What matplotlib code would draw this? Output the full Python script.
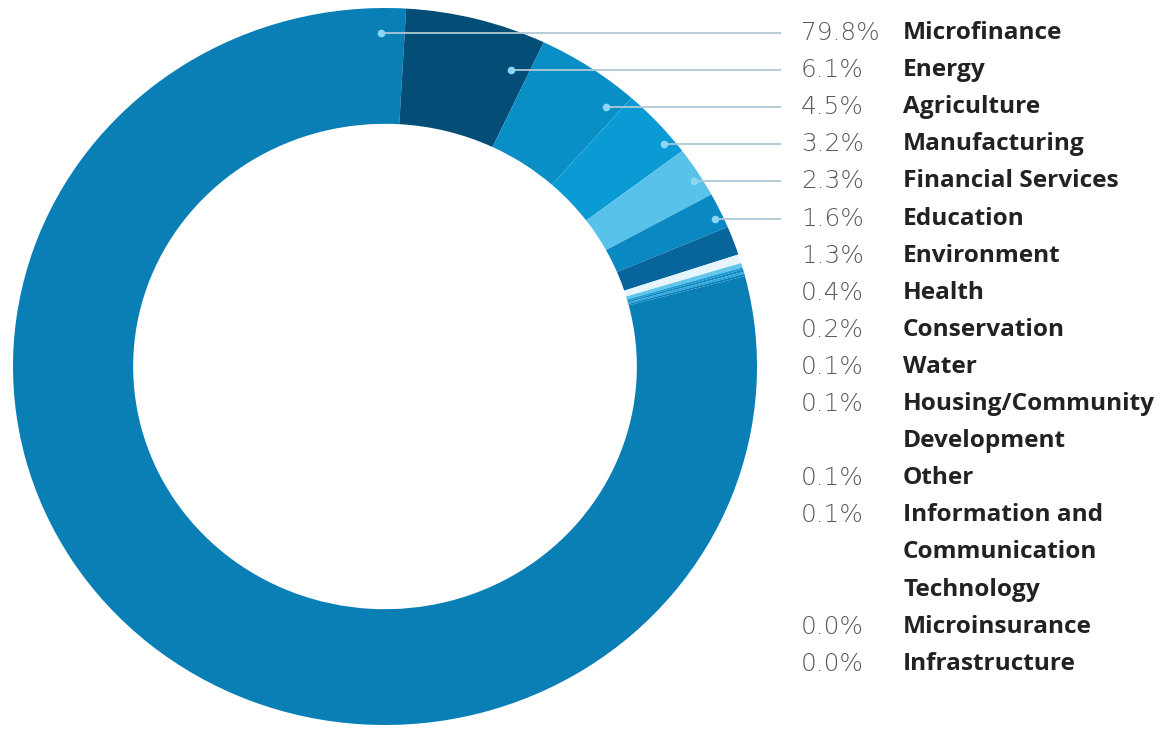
import numpy as np
import matplotlib
matplotlib.use("Agg")
import matplotlib.pyplot as plt

# ---------------- data ----------------
categories = ["Microfinance", "Energy", "Agriculture", "Manufacturing",
              "Financial Services", "Education", "Environment", "Health",
              "Conservation", "Water", "Housing/Community\nDevelopment", "Other",
              "Information and\nCommunication\nTechnology", "Microinsurance",
              "Infrastructure"]
values = [79.8, 6.1, 4.5, 3.2, 2.3, 1.6, 1.3, 0.4, 0.2, 0.1, 0.1, 0.1, 0.1, 0.0, 0.0]
pct_labels = ["79.8%", "6.1%", "4.5%", "3.2%", "2.3%", "1.6%", "1.3%", "0.4%",
              "0.2%", "0.1%", "0.1%", "0.1%", "0.1%", "0.0%", "0.0%"]
colors = ["#0a7fb6", "#034d76", "#0a8ec6", "#0b9bd4", "#58c2ea", "#0a88c2",
          "#07659c", "#e6f5fb", "#62c6ec", "#1a9ad4", "#0f86bf", "#2aa8df",
          "#0b7fb8", "#0a80b6", "#0a80b6"]
n_leaders = 6  # categories with leader lines

# ---------------- layout ----------------
W, H = 1159, 735
cx, cy = 385, 366.5          # ring centre (pixels)
rx, ry = 372, 358.5          # ring radii (pixels)
ring_width = 0.323
start_angle = 14.6
row0, row_step = 33, 37.1
x_pct, x_name, x_line_end = 801, 903, 781

fig = plt.figure(figsize=(W / 100, H / 100), dpi=100)
ax = fig.add_axes([(cx - rx) / W, (H - cy - ry) / H, 2 * rx / W, 2 * ry / H])
wedges, _ = ax.pie(values, colors=colors, startangle=start_angle, counterclock=False,
                   radius=1.0, wedgeprops=dict(width=ring_width, linewidth=0))
ax.set_aspect("auto")
ax.set_xlim(-1, 1)
ax.set_ylim(-1, 1)
ax.axis("off")

# overlay in pixel coordinates
ov = fig.add_axes([0, 0, 1, 1], facecolor="none")
ov.set_xlim(0, W)
ov.set_ylim(H, 0)
ov.axis("off")

# text rows (each wrapped line takes its own row)
row = 0
rows_y = []
for pct, name in zip(pct_labels, categories):
    y = row0 + row * row_step
    rows_y.append(y)
    ov.text(x_pct, y, pct, fontsize=17.8, color="#5a5a5a", va="center", ha="left",
            family="DejaVu Sans", fontweight="light")
    for k, line in enumerate(name.split("\n")):
        ov.text(x_name, y + k * row_step, line, fontsize=17.6, color="#222222",
                va="center", ha="left", family="Open Sans", fontweight="bold")
    row += name.count("\n") + 1

# leader lines with dots: dot lies on the label row, inside its slice
r_in = 1 - ring_width
for i in range(n_leaders):
    w = wedges[i]
    y_pix = rows_y[i]
    dy = (cy - y_pix) / ry
    a1 = (90 - w.theta2) % 360   # clockwise from top
    a2 = (90 - w.theta1) % 360
    if a2 < a1:
        a2 += 360
    xs = np.linspace(-1, 1, 4001)
    ang = np.degrees(np.arctan2(xs, dy)) % 360
    ang2 = np.where(ang < a1, ang + 360, ang)
    rr = np.hypot(xs, dy)
    inside = (ang2 >= a1) & (ang2 <= a2) & (rr <= 1) & (rr >= r_in)
    xin = xs[inside]
    lo, hi = xin.min(), xin.max()
    xd = lo + 0.85 * (hi - lo)
    x_pix = cx + xd * rx
    ov.plot([x_pix, x_line_end], [y_pix, y_pix], color="#b0c8d3", lw=1.3,
            solid_capstyle="butt", zorder=3)
    ov.plot([x_pix], [y_pix], "o", ms=5.5, color="#8ad6f4", mec="none", zorder=4)

fig.savefig("out.png", dpi=100)
